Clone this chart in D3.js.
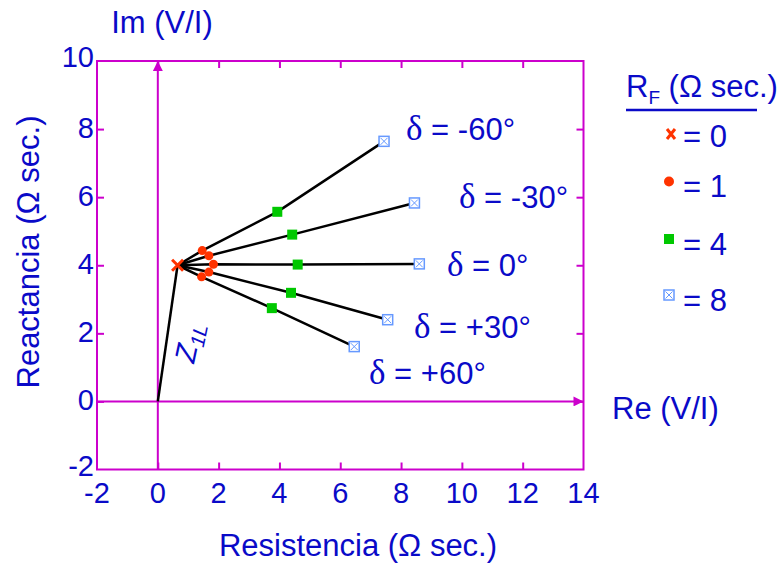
<!DOCTYPE html>
<html><head><meta charset="utf-8">
<script src="https://cdn.jsdelivr.net/npm/d3@7"></script>
<style>body{margin:0;background:#fff}svg{display:block}</style>
</head><body>
<script>
// ---- data ----
const deltaLabels = ["δ = -60°", "δ = -30°", "δ = 0°", "δ = +30°", "δ = +60°"];
const z1l = [0.65, 4.0];
const rf1X = [1.46, 1.68, 1.83, 1.68, 1.44];
const rf1Y = [4.43, 4.28, 4.03, 3.80, 3.66];
const rf4X = [3.93, 4.42, 4.60, 4.38, 3.75];
const rf4Y = [5.57, 4.90, 4.02, 3.19, 2.74];
const rf8X = [7.44, 8.44, 8.60, 7.56, 6.46];
const rf8Y = [7.64, 5.83, 4.04, 2.40, 1.61];
const xTicks = [-2, 0, 2, 4, 6, 8, 10, 12, 14];
const yTicks = [-2, 0, 2, 4, 6, 8, 10];
const legendValues = ["0", "1", "4", "8"];

const W = 783, H = 563;
const blue = "#0a0ac8", mag = "#cc00cc", red = "#ff3300", green = "#00c800", lblue = "#6699ff";
const FS = 31, TFS = 29;
const svg = d3.select("body").append("svg").attr("width", W).attr("height", H)
  .style("font-family", "'Liberation Sans', Arial, sans-serif");

const x = d3.scaleLinear().domain([-2, 14]).range([97, 583.5]);
const y = d3.scaleLinear().domain([-2, 10]).range([469.5, 61]);

// frame
svg.append("rect").attr("x", x(-2)).attr("y", y(10)).attr("width", x(14) - x(-2)).attr("height", y(-2) - y(10))
  .attr("fill", "none").attr("stroke", mag).attr("stroke-width", 2);

// inner ticks on all four sides
const tk = 7;
function styleTicks(g) {
  g.select(".domain").remove();
  g.selectAll("line").attr("stroke", mag).attr("stroke-width", 2);
}
svg.append("g").attr("transform", `translate(0,${y(-2)})`)
  .call(d3.axisTop(x).tickValues(xTicks.slice(1, -1)).tickSize(tk).tickFormat("")).call(styleTicks);
svg.append("g").attr("transform", `translate(0,${y(10)})`)
  .call(d3.axisBottom(x).tickValues(xTicks.slice(1, -1)).tickSize(tk).tickFormat("")).call(styleTicks);
svg.append("g").attr("transform", `translate(${x(-2)},0)`)
  .call(d3.axisRight(y).tickValues(yTicks.slice(1, -1)).tickSize(tk).tickFormat("")).call(styleTicks);
svg.append("g").attr("transform", `translate(${x(14)},0)`)
  .call(d3.axisLeft(y).tickValues(yTicks.slice(1, -1)).tickSize(tk).tickFormat("")).call(styleTicks);

// tick labels
svg.append("g").selectAll("text").data(xTicks).join("text")
  .attr("x", d => x(d)).attr("y", 503).attr("text-anchor", "middle")
  .attr("font-size", TFS).attr("fill", blue).text(d => d);
svg.append("g").selectAll("text").data(yTicks).join("text")
  .attr("x", 94).attr("y", d => y(d) + (d === -2 ? 6 : d === 10 ? 6 : 9)).attr("text-anchor", "end")
  .attr("font-size", TFS).attr("fill", blue).text(d => d);

// Re / Im axes with arrows
svg.append("defs").append("marker").attr("id", "arr").attr("viewBox", "0 0 10 10")
  .attr("refX", 10).attr("refY", 5).attr("markerWidth", 18).attr("markerHeight", 10)
  .attr("markerUnits", "userSpaceOnUse").attr("orient", "auto")
  .append("path").attr("d", "M0,0L10,5L0,10Z").attr("fill", mag);
svg.append("line").attr("x1", x(-2)).attr("x2", x(14)).attr("y1", y(0)).attr("y2", y(0))
  .attr("stroke", mag).attr("stroke-width", 2).attr("marker-end", "url(#arr)");
svg.append("line").attr("x1", x(0)).attr("x2", x(0)).attr("y1", y(-2)).attr("y2", y(10))
  .attr("stroke", mag).attr("stroke-width", 2).attr("marker-end", "url(#arr)");

// Z1L line
svg.append("line").attr("x1", x(0)).attr("y1", y(0)).attr("x2", x(z1l[0])).attr("y2", y(z1l[1]))
  .attr("stroke", "#000").attr("stroke-width", 2.5);

// delta lines
const line = d3.line().x(d => x(d[0])).y(d => y(d[1]));
deltaLabels.forEach((lab, i) => {
  svg.append("path").attr("d", line([z1l, [rf1X[i], rf1Y[i]], [rf4X[i], rf4Y[i]], [rf8X[i], rf8Y[i]]]))
    .attr("fill", "none").attr("stroke", "#000").attr("stroke-width", 2.5);
});

// markers
function xMark(g, cx, cy, s) {
  g.append("path").attr("d", `M${cx - s},${cy - s}L${cx + s},${cy + s}M${cx - s},${cy + s}L${cx + s},${cy - s}`)
    .attr("stroke", red).attr("stroke-width", 3).attr("fill", "none");
}
function boxMark(g, cx, cy, s) {
  g.append("rect").attr("x", cx - s).attr("y", cy - s).attr("width", 2 * s).attr("height", 2 * s)
    .attr("fill", "#fff").attr("stroke", lblue).attr("stroke-width", 1.5);
  g.append("path").attr("d", `M${cx - s + 1.5},${cy - s + 1.5}L${cx + s - 1.5},${cy + s - 1.5}M${cx - s + 1.5},${cy + s - 1.5}L${cx + s - 1.5},${cy - s + 1.5}`)
    .attr("stroke", lblue).attr("stroke-width", 1);
}
const mk = svg.append("g");
xMark(mk, x(z1l[0]), y(z1l[1]), 5.5);
rf1X.forEach((v, i) => mk.append("circle").attr("cx", x(v)).attr("cy", y(rf1Y[i])).attr("r", 4.5).attr("fill", red));
rf4X.forEach((v, i) => mk.append("rect").attr("x", x(v) - 5).attr("y", y(rf4Y[i]) - 5).attr("width", 10).attr("height", 10).attr("fill", green));
rf8X.forEach((v, i) => boxMark(mk, x(v), y(rf8Y[i]), 5));

// delta labels
const labPos = [[406, 140], [459, 208], [447, 276], [414, 338], [369, 384]];
deltaLabels.forEach((lab, i) => {
  const t = svg.append("text").attr("x", labPos[i][0]).attr("y", labPos[i][1])
    .attr("font-size", FS).attr("fill", blue);
  t.append("tspan").attr("font-family", "'Liberation Serif', serif").attr("font-size", 35).text(lab.slice(0, 1));
  t.append("tspan").text(lab.slice(1));
});

// Z1L label
const zt = svg.append("text").attr("transform", `translate(194,364) rotate(-78)`)
  .attr("font-size", 29).attr("fill", blue).attr("font-style", "italic");
zt.append("tspan").text("Z");
zt.append("tspan").attr("font-size", 20).attr("dy", 6).text("1L");

// axis titles
svg.append("text").attr("x", 162).attr("y", 33).attr("text-anchor", "middle").attr("font-size", FS).attr("fill", blue).text("Im (V/I)");
svg.append("text").attr("x", 612).attr("y", 419).attr("font-size", FS).attr("fill", blue).text("Re (V/I)");
svg.append("text").attr("x", 358).attr("y", 556).attr("text-anchor", "middle").attr("font-size", FS).attr("fill", blue).text("Resistencia (Ω sec.)");
svg.append("text").attr("transform", "translate(39,252) rotate(-90)").attr("text-anchor", "middle").attr("font-size", FS).attr("fill", blue).text("Reactancia (Ω  sec.)");

// legend
const lt = svg.append("text").attr("x", 626).attr("y", 97).attr("font-size", FS).attr("fill", blue);
lt.append("tspan").text("R");
lt.append("tspan").attr("font-size", 19).attr("dy", 7).text("F");
lt.append("tspan").attr("dy", -7).text(" (Ω sec.)");
svg.append("line").attr("x1", 626).attr("x2", 757).attr("y1", 110).attr("y2", 110).attr("stroke", blue).attr("stroke-width", 2.5);
const legY = [147, 197, 255, 311];
const lg = svg.append("g");
legendValues.forEach((v, i) => {
  lg.append("text").attr("x", 683).attr("y", legY[i]).attr("font-size", FS).attr("fill", blue).text("= " + v);
});
lg.append("path").attr("d", "M667,129L675,139M667,139L675,129").attr("stroke", red).attr("stroke-width", 3);
lg.append("circle").attr("cx", 669).attr("cy", 181.5).attr("r", 5).attr("fill", red);
lg.append("rect").attr("x", 664).attr("y", 234).attr("width", 10).attr("height", 10).attr("fill", green);
boxMark(lg, 669, 295, 5);
</script>
</body></html>
